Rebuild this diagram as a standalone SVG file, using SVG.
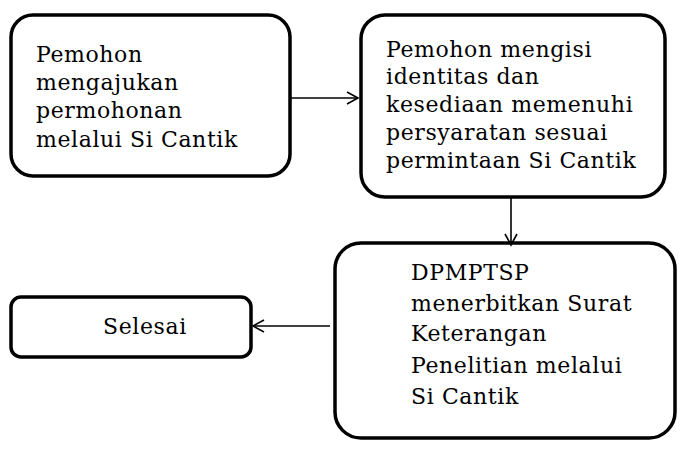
<svg xmlns="http://www.w3.org/2000/svg" width="688" height="463" viewBox="0 0 688 463">
<style>
.b{fill:#fff;stroke:#000;stroke-width:3.5}
text{font-family:"DejaVu Serif","Liberation Serif",serif;font-size:22px;letter-spacing:0.6px;fill:#000}
.c{stroke:#000;stroke-width:1.6;fill:none}
</style>
<defs><marker id="a" markerWidth="14" markerHeight="14" refX="12" refY="7" orient="auto" markerUnits="userSpaceOnUse"><path d="M1,1 L12,7 L1,13" fill="none" stroke="#000" stroke-width="1.6"/></marker></defs>
<rect width="688" height="463" fill="#fff"/>
<g id="n1"><rect class="b" x="11" y="15" width="279" height="161" rx="22"/>
<text x="36" y="62">Pemohon</text><text x="36" y="90">mengajukan</text><text x="36" y="118">permohonan</text><text x="36" y="147">melalui Si Cantik</text></g>
<g id="n2"><rect class="b" x="361" y="15" width="304" height="182" rx="24"/>
<text x="386" y="57">Pemohon mengisi</text><text x="386" y="84">identitas dan</text><text x="386" y="112">kesediaan memenuhi</text><text x="386" y="140">persyaratan sesuai</text><text x="386" y="168">permintaan Si Cantik</text></g>
<g id="n3"><rect class="b" x="335" y="243" width="340" height="195" rx="26"/>
<text x="411" y="280">DPMPTSP</text><text x="411" y="311">menerbitkan Surat</text><text x="411" y="341">Keterangan</text><text x="411" y="373">Penelitian melalui</text><text x="411" y="404">Si Cantik</text></g>
<g id="n4"><rect class="b" x="11" y="297" width="240" height="60" rx="10"/>
<text x="103" y="334">Selesai</text></g>
<g id="edges">
<path class="c" d="M290,98 H358" marker-end="url(#a)"/>
<path class="c" d="M511,197 V245" marker-end="url(#a)"/>
<path class="c" d="M330,326 H253" marker-end="url(#a)"/>
</g>
</svg>
